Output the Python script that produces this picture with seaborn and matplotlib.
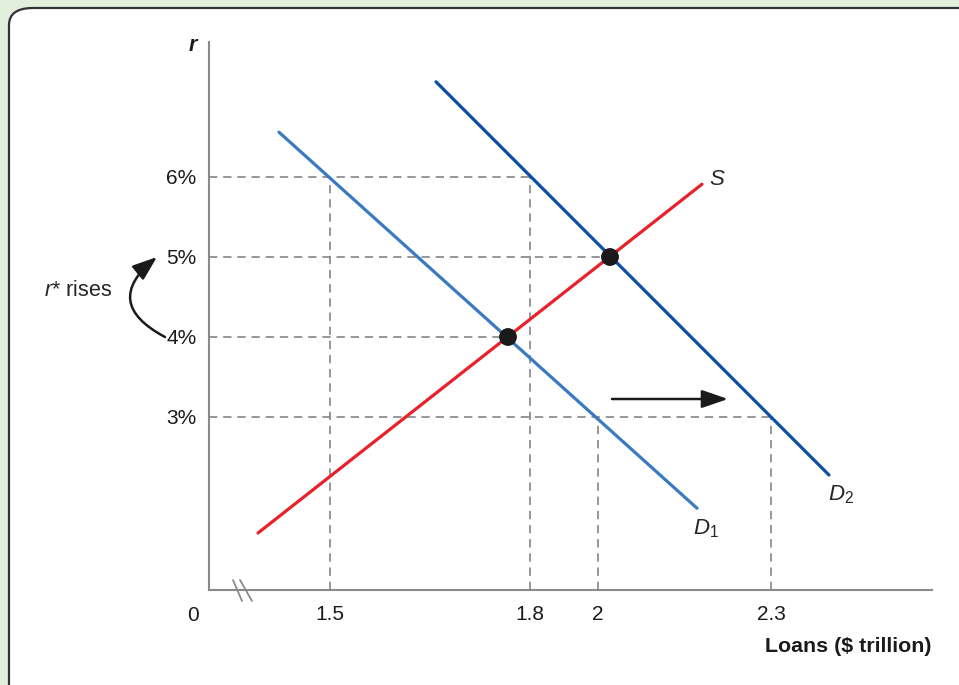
# 대부자금 시장: 수요 증가(D1 -> D2)로 균형 이자율 상승
import numpy as np
import pandas as pd
import matplotlib
matplotlib.use("Agg")
import matplotlib.pyplot as plt
from matplotlib.patches import FancyBboxPatch
import seaborn as sns

# 1. 데이터 (x는 도식 좌표, y는 이자율 %)
x_tick_pos = [1.21, 3.21, 3.89, 5.62]
x_tick_labels = ["1.5", "1.8", "2", "2.3"]
r_ticks = [3, 4, 5, 6]
r_tick_labels = ["3%", "4%", "5%", "6%"]

s_x = [0.49, 4.93]
s_r = [1.55, 5.91]
d1_x = [0.70, 4.88]
d1_r = [6.56, 1.86]
d2_x = [2.27, 6.20]
d2_r = [7.19, 2.275]

eq_x = [2.99, 4.01]
eq_r = [4, 5]

# 점선 가이드: (이자율, 끝 x), (x, 위쪽 이자율)
h_guides_r = [6, 5, 4, 3]
h_guides_end = [3.21, 4.01, 2.99, 5.62]
v_guides_x = [1.21, 3.21, 3.89, 5.62]
v_guides_top = [6, 6, 3, 3]

curves = pd.DataFrame({
    "x": s_x + d1_x + d2_x,
    "r": s_r + d1_r + d2_r,
    "curve": ["S"] * 2 + ["D1"] * 2 + ["D2"] * 2,
})
palette = {"S": "#e8212b", "D1": "#3b79c1", "D2": "#0b4ea2"}

# 2. 스타일
sns.set_style("white")
plt.rcParams["font.family"] = ["Liberation Sans", "DejaVu Sans"]
plt.rcParams["mathtext.fontset"] = "custom"
plt.rcParams["mathtext.it"] = "Liberation Sans:italic"
plt.rcParams["mathtext.rm"] = "Liberation Sans"

fig = plt.figure(figsize=(9.59, 6.85), dpi=100)
fig.patch.set_facecolor("#e2efdc")
W, H = 959, 685
panel = FancyBboxPatch((9 / W, -0.1), 1.2, (H - 8) / H + 0.1,
                       boxstyle="round,pad=0,rounding_size=0.025",
                       transform=fig.transFigure, facecolor="white",
                       edgecolor="#333333", linewidth=1.6, zorder=-10)
fig.patches.append(panel)

ax = fig.add_axes([209 / W, (H - 590) / H, (932 - 209) / W, (590 - 42) / H])
ax.set_facecolor("none")
ax.set_xlim(0, 7.23)
ax.set_ylim(0.8375, 7.6875)

# 점선
dash_kw = dict(color="#858585", linewidth=1.2, linestyles=(0, (5, 3.5)), zorder=1)
for r, xe in zip(h_guides_r, h_guides_end):
    ax.hlines(r, 0, xe, **dash_kw)
for xv, rt in zip(v_guides_x, v_guides_top):
    ax.vlines(xv, 0.8375, rt, **dash_kw)

# 곡선과 균형점
sns.lineplot(data=curves, x="x", y="r", hue="curve", palette=palette,
             units="curve", estimator=None, sort=False, linewidth=2.3,
             legend=False, ax=ax, zorder=3)
sns.scatterplot(x=eq_x, y=eq_r, color="#1a1a1a", s=165, edgecolor="none",
                ax=ax, zorder=5)

# 축
for side in ["top", "right"]:
    ax.spines[side].set_visible(False)
for side in ["left", "bottom"]:
    ax.spines[side].set_color("#8a8a8a")
    ax.spines[side].set_linewidth(1.5)
ax.set_xticks(x_tick_pos)
ax.set_xticklabels(x_tick_labels)
ax.set_yticks(r_ticks)
ax.set_yticklabels(r_tick_labels)
ax.tick_params(axis="both", length=0, labelsize=15, colors="#1a1a1a")
ax.tick_params(axis="x", pad=11)
ax.tick_params(axis="y", pad=9)
ax.set_xlabel("")
ax.set_ylabel("")

# 축 끊김 표시
ax.plot([0.24, 0.33], [0.9625, 0.70], color="#8a8a8a", lw=1.3, clip_on=False)
ax.plot([0.31, 0.43], [0.9625, 0.70], color="#8a8a8a", lw=1.3, clip_on=False)

# 텍스트
ax.text(-0.16, 0.52, "0", fontsize=15, ha="center", va="center",
        color="#1a1a1a", clip_on=False)
ax.text(-0.12, 7.64, "r", fontsize=15.5, fontweight="bold", style="italic",
        ha="right", va="center", color="#1a1a1a")
ax.text(7.23, 0.13, "Loans ($ trillion)", fontsize=15.4, fontweight="bold",
        ha="right", va="center", color="#1a1a1a")
ax.text(5.00, 5.97, "S", fontsize=16, style="italic", ha="left", va="center")
ax.text(4.97, 1.60, "$D_1$", fontsize=16, ha="center", va="center")
ax.text(6.32, 2.03, "$D_2$", fontsize=16, ha="center", va="center")
ax.text(-1.31, 4.58, "$r$* rises", fontsize=15.5, ha="center", va="center")

# 화살표
ax.annotate("", xy=(-0.52, 5.0), xytext=(-0.44, 4.0),
            arrowprops=dict(arrowstyle="-|>,head_length=1.5,head_width=0.55",
                            connectionstyle="arc3,rad=-0.75", color="#1a1a1a",
                            lw=1.8, shrinkA=0, shrinkB=0),
            annotation_clip=False)
ax.annotate("", xy=(5.19, 3.225), xytext=(4.03, 3.225),
            arrowprops=dict(arrowstyle="-|>,head_length=1.6,head_width=0.55",
                            color="#1a1a1a", lw=1.8, shrinkA=0, shrinkB=0))

fig.savefig("out.png", dpi=100, facecolor=fig.get_facecolor())
